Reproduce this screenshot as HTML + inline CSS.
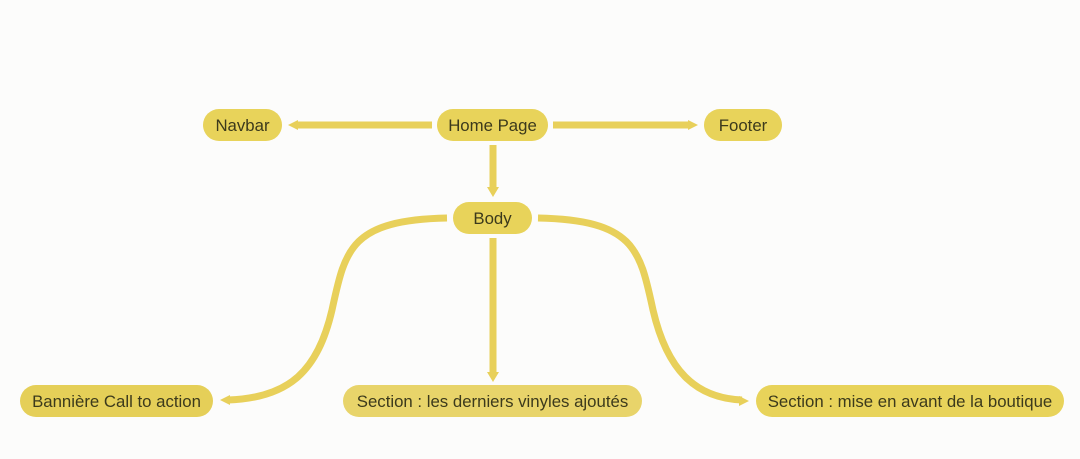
<!DOCTYPE html>
<html><head><meta charset="utf-8"><style>
html,body{margin:0;padding:0;background:#fcfcfb;}
svg{display:block;font-family:"Liberation Sans",sans-serif;}
</style></head><body>
<svg width="1080" height="459" viewBox="0 0 1080 459">
<g fill="none" stroke="#e8d05a" stroke-width="7">
  <path d="M432,125 L296,125"/>
  <path d="M553,125 L690,125"/>
  <path d="M493,145 L493,190"/>
  <path d="M493,238 L493,376"/>
  <path d="M447,218 C350,220 345,250 332,310 C318,370 290,398 228,400"/>
  <path d="M538,218 C635,220 640,250 653,310 C667,370 695,398 742,400"/>
</g>
<g fill="#e8d05a">
  <polygon points="288,125 298,120 298,130"/>
  <polygon points="698,125 688,120 688,130"/>
  <polygon points="493,197 487,187 499,187"/>
  <polygon points="493,382 487,372 499,372"/>
  <polygon points="220,400 230,395 230,405"/>
  <polygon points="749,401 739,396 739,406"/>
</g>
<g font-size="16.8" fill="#3c3a1c" text-anchor="middle">
  <g><rect x="203" y="109" width="79" height="32" rx="16" fill="#e8d35a"/><text x="242.5" y="131" fill="#3c3a1c">Navbar</text></g>
  <g><rect x="437" y="109" width="111" height="32" rx="16" fill="#e8d35a"/><text x="492.5" y="131" fill="#3c3a1c">Home Page</text></g>
  <g><rect x="704" y="109" width="78" height="32" rx="16" fill="#e8d35a"/><text x="743" y="131" fill="#3c3a1c">Footer</text></g>
  <g><rect x="453" y="202" width="79" height="32" rx="16" fill="#e8d35a"/><text x="492.5" y="224" fill="#3c3a1c">Body</text></g>
  <g><rect x="20" y="385" width="193" height="32" rx="16" fill="#e5cf58"/><text x="116.5" y="407" fill="#3c3a1c">Bannière Call to action</text></g>
  <g><rect x="343" y="385" width="299" height="32" rx="16" fill="#e8d46a"/><text x="492.5" y="407" fill="#3c3a1c">Section : les derniers vinyles ajoutés</text></g>
  <g><rect x="756" y="385" width="308" height="32" rx="16" fill="#e8d35a"/><text x="910" y="407" fill="#3c3a1c">Section : mise en avant de la boutique</text></g>
</g>
</svg>
</body></html>
